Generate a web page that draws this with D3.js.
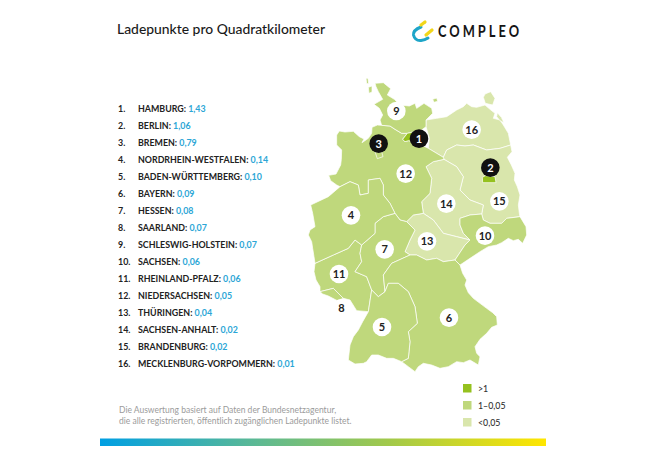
<!DOCTYPE html>
<html>
<head>
<meta charset="utf-8">
<script src="https://cdn.jsdelivr.net/npm/d3@7"></script>
<style>
html, body { margin: 0; background: #fff; }
text { font-family: Lato, sans-serif; }
</style>
</head>
<body>
<svg id="chart" width="650" height="450"></svg>
<script>
// ranking, same order as the list on the left
var stateNames = ['HAMBURG', 'BERLIN', 'BREMEN', 'NORDRHEIN-WESTFALEN', 'BADEN-WÜRTTEMBERG', 'BAYERN', 'HESSEN', 'SAARLAND',
    'SCHLESWIG-HOLSTEIN', 'SACHSEN', 'RHEINLAND-PFALZ', 'NIEDERSACHSEN', 'THÜRINGEN', 'SACHSEN-ANHALT', 'BRANDENBURG', 'MECKLENBURG-VORPOMMERN'];
var stateValues = [1.43, 1.06, 0.79, 0.14, 0.10, 0.09, 0.08, 0.07, 0.07, 0.06, 0.06, 0.05, 0.04, 0.02, 0.02, 0.01];
var valueLabels = ['1,43', '1,06', '0,79', '0,14', '0,10', '0,09', '0,08', '0,07', '0,07', '0,06', '0,06', '0,05', '0,04', '0,02', '0,02', '0,01'];

var legendLabels = ['>1', '1–0,05', '<0,05'];
var noteLines = ['Die Auswertung basiert auf Daten der Bundesnetzagentur,', 'die alle registrierten, öffentlich zugänglichen Ladepunkte listet.'];

// state outlines in map units
var shapeSH = [[[225,40],[250,38],[272,56],[262,75],[283,88],[300,105],[328,108],[345,100],[350,115],[372,100],[395,115],[398,130],[378,150],[378,170],[365,180],[335,187],[322,190],[305,190],[285,178],[270,168],[245,166],[240,150],[248,135],[238,115],[222,103],[248,88],[235,65],[228,50]],
    [[398,88],[410,84],[413,94],[402,97]], [[205,52],[216,48],[216,66],[207,70]], [[198,25],[204,25],[206,42],[200,40]]];
var shapeHH = [[[308,208],[322,190],[335,187],[350,192],[345,215],[325,212],[315,215]]];
var shapeMV = [[[378,150],[410,145],[440,140],[470,120],[490,110],[500,100],[515,110],[530,112],[555,105],[570,118],[585,130],[580,145],[600,150],[610,165],[625,190],[632,225],[600,235],[560,240],[520,225],[495,228],[470,225],[440,240],[430,262],[385,235],[388,205],[378,170]],
    [[555,72],[572,65],[585,85],[578,105],[556,100],[550,82]], [[592,128],[604,142],[612,158],[600,152],[590,140]]];
var shapeBB = [[[430,262],[440,240],[470,225],[495,228],[520,225],[560,240],[600,235],[632,225],[636,245],[622,262],[634,285],[645,310],[643,330],[652,350],[660,375],[655,405],[658,430],[660,440],[620,445],[605,460],[570,460],[550,450],[545,432],[550,405],[510,390],[480,360],[490,320],[470,290],[432,268]]];
var shapeBE = [[[547,322],[556,317],[585,320],[588,338],[548,338]]];
var shapeST = [[[378,290],[400,275],[432,268],[470,290],[490,320],[480,360],[510,390],[550,405],[545,432],[510,435],[480,445],[480,465],[490,490],[510,510],[470,500],[430,490],[400,450],[370,430],[365,395],[390,370],[395,325]]];
var shapeTH = [[[320,455],[340,435],[370,430],[400,450],[430,490],[470,500],[510,510],[495,525],[465,570],[430,575],[410,565],[380,570],[350,555],[330,555],[315,545],[330,510],[345,480]]];
var shapeSN = [[[480,445],[510,435],[545,432],[550,450],[570,460],[605,460],[620,445],[660,440],[678,470],[680,495],[668,520],[655,508],[640,512],[625,505],[605,518],[590,525],[565,530],[540,545],[510,565],[480,585],[465,570],[495,525],[510,510],[490,490],[480,465]]];
var shapeBY = [[[465,570],[480,585],[488,610],[500,630],[495,645],[505,668],[520,685],[540,700],[560,715],[578,728],[590,740],[592,765],[575,772],[560,790],[540,808],[525,830],[530,850],[540,860],[535,885],[510,870],[490,878],[470,875],[445,890],[420,895],[395,885],[370,880],[355,890],[345,905],[325,890],[305,875],[325,865],[330,815],[325,785],[352,760],[345,710],[325,665],[295,640],[265,640],[255,665],[250,615],[275,580],[330,555],[350,555],[380,570],[410,565],[430,575]]];
var shapeBW = [[[255,665],[265,640],[295,640],[325,665],[345,710],[352,760],[325,785],[330,815],[325,865],[305,875],[280,865],[260,865],[235,855],[215,855],[200,875],[190,880],[165,882],[145,870],[150,825],[160,800],[175,780],[188,755],[205,725],[215,660],[235,680]]];
var shapeHE = [[[320,455],[345,480],[330,510],[315,545],[330,555],[275,580],[250,615],[255,665],[235,680],[215,660],[200,620],[165,605],[185,575],[180,550],[185,525],[225,490],[225,460],[250,440],[285,430],[300,450]]];
var shapeNW = [[[32,405],[85,380],[120,350],[150,335],[175,345],[180,375],[205,370],[205,330],[240,325],[250,345],[250,375],[270,400],[285,430],[250,440],[225,460],[225,490],[185,525],[165,510],[145,535],[100,555],[45,580],[42,560],[38,535],[35,515],[25,495],[30,480],[45,470],[38,430]]];
var shapeRP = [[[45,580],[100,555],[145,535],[165,510],[185,525],[180,550],[185,575],[165,605],[200,620],[215,660],[205,725],[170,722],[150,690],[130,685],[100,655],[60,665],[60,650],[48,630],[42,605]]];
var shapeSL = [[[60,665],[100,655],[130,685],[112,692],[85,678],[68,672]]];
var shapeNI = [[[110,195],[118,183],[135,186],[160,184],[178,200],[192,207],[186,218],[205,205],[215,190],[216,172],[232,165],[245,166],[270,168],[285,178],[305,190],[322,190],[308,208],[315,215],[325,212],[345,215],[385,235],[430,262],[432,268],[400,275],[378,290],[395,325],[390,370],[365,395],[370,430],[340,435],[320,455],[300,450],[285,430],[270,400],[250,375],[250,345],[240,325],[205,330],[205,370],[180,375],[175,345],[150,335],[120,350],[110,345],[92,332],[86,316],[108,312],[122,285],[124,268],[125,240],[110,225]]];
var shapeHB = [[[225,245],[245,245],[249,260],[232,266]]];

var stateShapes = [shapeHH, shapeBE, shapeHB, shapeNW, shapeBW, shapeBY, shapeHE, shapeSL, shapeSH, shapeSN, shapeRP, shapeNI, shapeTH, shapeST, shapeBB, shapeMV];
// where each number badge sits, in the same map units
var badgePoints = [[357,206],[571,293],[236,221],[153,436],[246,771],[447,743],[254,538],[124,715],[289,123],[555,497],[117,612],[317,311],[381,514],[439,401],[598,394],[515,179]];

var svg = d3.select('#chart');

var x = d3.scaleLinear().domain([0, 720]).range([300, 540]);
var y = d3.scaleLinear().domain([0, 1050]).range([70, 420]);
var colour = d3.scaleThreshold().domain([0.05, 1]).range(['#d9e6ac', '#bfd87c', '#95c11f']);

var line = d3.line().x(function(d) { return x(d[0]); }).y(function(d) { return y(d[1]); }).curve(d3.curveLinearClosed);

// title + logo
svg.append('text').attr('x', 117).attr('y', 34).attr('font-size', 13.9).attr('font-weight', 500).attr('fill', '#1a1a1a').text('Ladepunkte pro Quadratkilometer');

var logo = svg.append('g').attr('fill', 'none').attr('stroke-linecap', 'round');
logo.append('path').attr('d', 'M421 27 Q413 30 413.5 35 Q415 41 421 40.5 Q425 40 428 38').attr('stroke', '#1ea5c8').attr('stroke-width', 3);
logo.append('path').attr('d', 'M421 25 L425 22').attr('stroke', '#f2d61a').attr('stroke-width', 3.2);
logo.append('path').attr('d', 'M426 35 L432 30').attr('stroke', '#f2d61a').attr('stroke-width', 3.2);
svg.append('text').attr('transform', 'translate(438,37) scale(0.78,1)').attr('font-family', 'Roboto').attr('font-size', 16.5).attr('font-weight', 700).attr('fill', '#151515')
    .attr('textLength', 104).attr('lengthAdjust', 'spacing').text('COMPLEO');

// map
var states = svg.append('g');
// biggest first so the tiny city states stay on top
var drawOrder = d3.range(stateShapes.length).reverse();
drawOrder.forEach(function(i) {
    states.selectAll(null).data(stateShapes[i]).enter().append('path')
        .attr('d', line)
        .attr('fill', colour(stateValues[i]))
        .attr('stroke', '#fff')
        .attr('stroke-width', 0.7)
        .attr('stroke-linejoin', 'round');
});

var badges = svg.append('g').selectAll('g').data(badgePoints).enter().append('g')
    .attr('transform', function(d) { return 'translate(' + x(d[0]) + ',' + y(d[1]) + ')'; });
badges.append('circle').attr('r', 9.3).attr('fill', function(d, i) { return i < 3 ? '#111' : '#fff'; });
badges.append('text').attr('text-anchor', 'middle').attr('y', 3.9).attr('font-size', 11).attr('font-weight', 700)
    .attr('fill', function(d, i) { return i < 3 ? '#fff' : '#222'; })
    .text(function(d, i) { return i + 1; });

// ranking list
var rowY = d3.scalePoint().domain(d3.range(stateNames.length)).range([111.5, 366.5]);
var rows = svg.append('g').selectAll('g').data(stateNames).enter().append('g')
    .attr('transform', function(d, i) { return 'translate(0,' + rowY(i) + ')'; })
    .attr('font-size', 8.85).attr('font-weight', 700);
rows.append('text').attr('x', 118).attr('fill', '#222').text(function(d, i) { return (i + 1) + '.'; });
var rowText = rows.append('text').attr('x', 138).attr('fill', '#222');
rowText.append('tspan').text(function(d) { return d + ': '; });
rowText.append('tspan').attr('fill', '#2ba6d6').text(function(d, i) { return valueLabels[i]; });

// note
svg.append('g').selectAll('text').data(noteLines).enter().append('text')
    .attr('x', 119).attr('y', function(d, i) { return 413 + i * 10.6; })
    .attr('font-size', 8.5).attr('fill', '#9b9b9b').text(function(d) { return d; });

// legend
var legendY = d3.scalePoint().domain(d3.range(legendLabels.length)).range([384, 418]);
var legendColours = colour.range().slice().reverse();
var legend = svg.append('g').selectAll('g').data(legendLabels).enter().append('g')
    .attr('transform', function(d, i) { return 'translate(463,' + legendY(i) + ')'; });
legend.append('rect').attr('width', 8.5).attr('height', 8.5).attr('fill', function(d, i) { return legendColours[i]; });
legend.append('text').attr('x', 15).attr('y', 7.5).attr('font-size', 8.8).attr('font-weight', 500).attr('fill', '#333').text(function(d) { return d; });

// bottom colour strip
var grad = svg.append('defs').append('linearGradient').attr('id', 'strip');
grad.selectAll('stop').data([['0%', '#009fe3'], ['35%', '#5cb994'], ['65%', '#a2c94a'], ['100%', '#ffe600']]).enter().append('stop')
    .attr('offset', function(d) { return d[0]; }).attr('stop-color', function(d) { return d[1]; });
svg.append('rect').attr('x', 100).attr('y', 438.5).attr('width', 446).attr('height', 7.5).attr('fill', 'url(#strip)');
</script>
</body>
</html>
